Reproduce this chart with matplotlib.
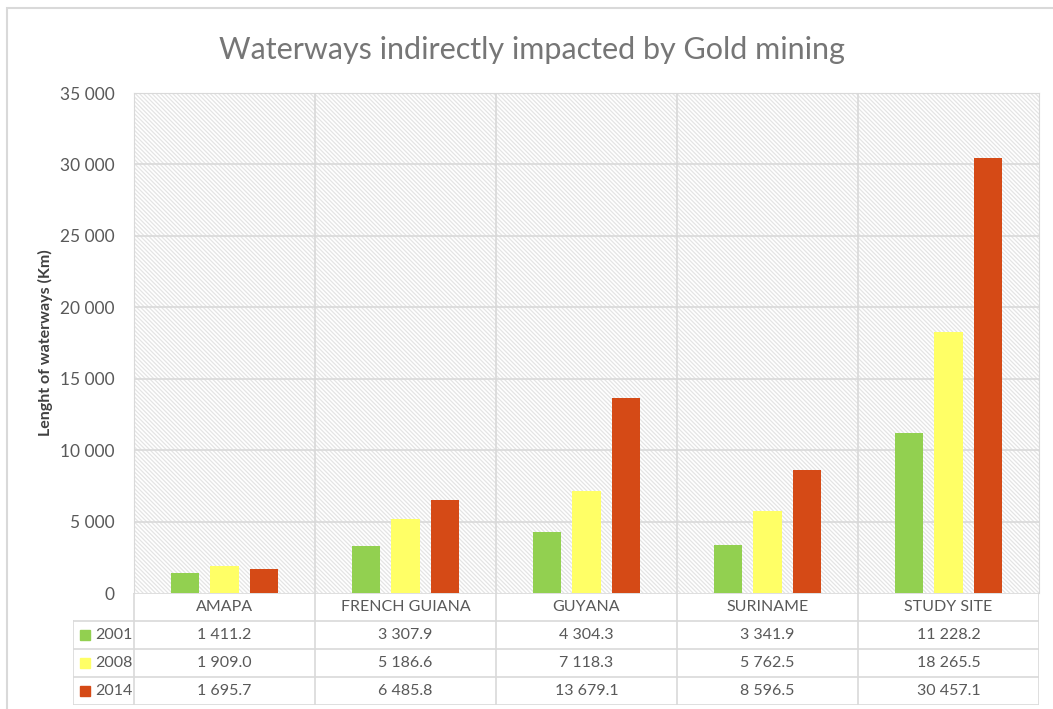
import numpy as np
import matplotlib
matplotlib.use("Agg")
import matplotlib.pyplot as plt
from matplotlib.patches import Rectangle

plt.rcParams["font.family"] = ["Lato", "DejaVu Sans"]
plt.rcParams["hatch.linewidth"] = 0.9

regions = ["AMAPA", "FRENCH GUIANA", "GUYANA", "SURINAME", "STUDY SITE"]
years = ["2001", "2008", "2014"]
v2001 = [1411.2, 3307.9, 4304.3, 3341.9, 11228.2]
v2008 = [1909.0, 5186.6, 7118.3, 5762.5, 18265.5]
v2014 = [1695.7, 6485.8, 13679.1, 8596.5, 30457.1]
yticks = [0, 5000, 10000, 15000, 20000, 25000, 30000, 35000]

colors = ["#92D050", "#FFFF66", "#D54A16"]
txt = "#595959"
grid = "#D9D9D9"

W, H = 1053, 709
fig = plt.figure(figsize=(W / 100, H / 100), dpi=100)


def box(x0, y0, x1, y1):
    # pixel box (top-left origin) -> figure fraction rect
    return [x0 / W, 1 - y1 / H, (x1 - x0) / W, (y1 - y0) / H]


# outer chart frame
fig.patches.append(Rectangle((7 / W, -0.01), 1.02, 1 - 8 / H + 0.01, transform=fig.transFigure,
                             fill=False, edgecolor="#D9D9D9", linewidth=1.5))

ax = fig.add_axes(box(134, 93, 1039, 593))
ax.set_xlim(0, len(regions))
ax.set_ylim(0, 35000)
ax.add_patch(Rectangle((0, 0), 1, 1, transform=ax.transAxes, facecolor="white",
                       edgecolor="#E4E4E4", linewidth=0, hatch="\\" * 8, zorder=0.5))
for y in yticks[1:]:
    ax.axhline(y, color=grid, linewidth=1.2, zorder=1)
for i in range(1, len(regions)):
    ax.axvline(i, color=grid, linewidth=1.2, zorder=1)

x = np.arange(len(regions)) + 0.5
width = 0.155
offsets = [-0.22, 0.0, 0.22]
for vals, c, off in zip([v2001, v2008, v2014], colors, offsets):
    ax.bar(x + off, vals, width=width, color=c, zorder=3)

ax.set_xticks([])
ax.set_yticks(yticks)
ax.set_yticklabels([f"{t:,}".replace(",", " ") for t in yticks], color=txt, fontsize=12.5)
ax.tick_params(axis="y", length=0, pad=14)
for s in ax.spines.values():
    s.set_visible(False)
for side in ("top", "right", "left"):
    ax.spines[side].set_visible(True)
    ax.spines[side].set_color(grid)

ax.set_ylabel("Lenght of waterways (Km)", fontsize=11.5, fontweight="bold", color="#404040",
              labelpad=5)

fig.text(0.505, 1 - 50 / H, "Waterways indirectly impacted by Gold mining", ha="center",
         va="center", fontsize=22, color="#767676")

# data table under the axes
lx = (73 - 134) / 181.0
tab = fig.add_axes(box(73, 593, 1039, 705))
tab.set_xlim(lx, len(regions))
tab.set_ylim(4, 0)
tab.axis("off")
lc = dict(color=grid, linewidth=1.2)
tab.plot([0, len(regions)], [0, 0], **lc)
for r in range(1, 5):
    tab.plot([lx, len(regions)], [r, r], **lc)
for i in range(0, len(regions) + 1):
    tab.plot([i, i], [0, 4], **lc)
tab.plot([lx, lx], [1, 4], **lc)

for i, name in enumerate(regions):
    tab.text(i + 0.5, 0.5, name, ha="center", va="center", fontsize=11.5, color=txt)
for r, (yr, vals, c) in enumerate(zip(years, [v2001, v2008, v2014], colors)):
    yy = r + 1.5
    tab.plot([lx + 0.065], [yy], marker="s", markersize=7, color=c, linestyle="none")
    tab.text(lx + 0.12, yy, yr, ha="left", va="center", fontsize=11.5, color=txt)
    for i, v in enumerate(vals):
        tab.text(i + 0.5, yy, f"{v:,.1f}".replace(",", " "), ha="center", va="center",
                 fontsize=11.5, color=txt)

fig.savefig("out.png", dpi=100)
